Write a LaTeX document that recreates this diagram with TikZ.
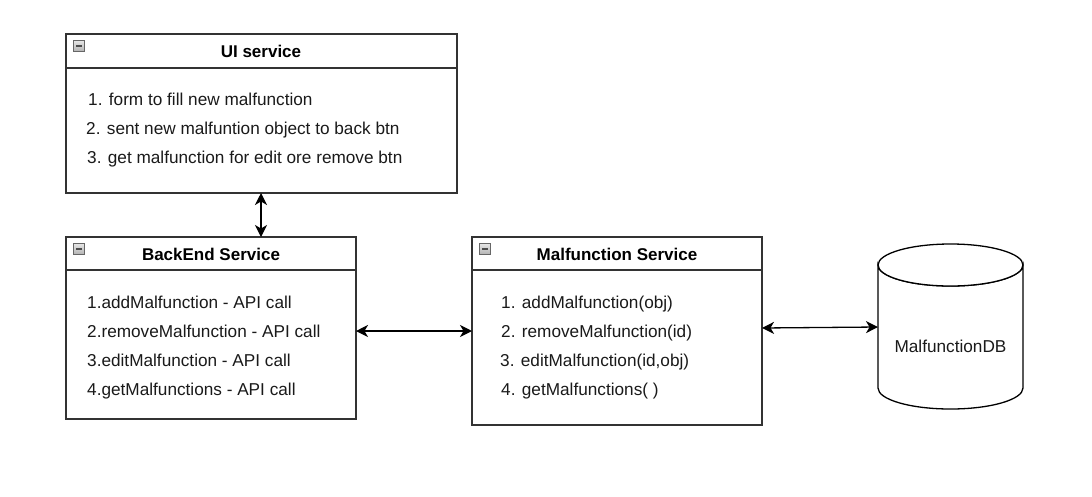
\documentclass[tikz,border=0pt]{standalone}
\usepackage{fontspec}
\setmainfont{Liberation Sans}
\usetikzlibrary{arrows.meta,shapes.geometric}
\definecolor{boxline}{HTML}{333333}
\definecolor{txt}{HTML}{1A1A1A}
\tikzset{
  x=1pt,y=-1pt,
  frame/.style={draw=boxline,line width=1.4pt,fill=white},
  sep/.style={draw=boxline,line width=1.4pt},
  title/.style={font=\fontsize{17}{20}\selectfont\bfseries,text=black,inner sep=0pt,anchor=base},
  item/.style={font=\fontsize{17.2}{20}\selectfont,text=txt,anchor=base west,inner sep=0pt},
  icon/.style={draw=gray!80!black,line width=0.6pt,top color=gray!20,bottom color=gray!60,minimum size=11pt,inner sep=0pt},
  conn/.style={draw=black,line width=1.3pt,{Stealth[length=12pt,width=12pt,inset=3.5pt]}-{Stealth[length=12pt,width=12pt,inset=3.5pt]}},
}
\newcommand{\collapseicon}[2]{%
  \node[icon] (#1) at #2 {};
  \draw[line width=1.4pt,black!70] ([xshift=3pt]#1.center) -- ([xshift=-3pt]#1.center);
}
\begin{document}
\begin{tikzpicture}
\useasboundingbox (0,0) rectangle (1092,496);
% UI service
\draw[frame] (66,34) rectangle (457,193);
\draw[sep] (66,68) -- (457,68);
\node[draw=none,minimum width=391pt,minimum height=159pt,anchor=north west] (ui) at (66,34) {};
\collapseicon{uiicon}{(78.5,46)}
\node[title] (uit) at (261,57) {UI service};
\node[item] (ui1) at (88,105) {1. form to fill new malfunction};
\node[item] (ui2) at (86,134) {2. sent new malfuntion object to back btn};
\node[item] (ui3) at (87,163) {3. get malfunction for edit ore remove btn};

% BackEnd service
\draw[frame] (66,237) rectangle (356,419);
\draw[sep] (66,270) -- (356,270);
\node[draw=none,minimum width=290pt,minimum height=182pt,anchor=north west] (be) at (66,237) {};
\collapseicon{beicon}{(78.5,249)}
\node[title] (bet) at (211,260) {BackEnd Service};
\node[item] (be1) at (87,308) {1.addMalfunction - API call};
\node[item] (be2) at (87,337) {2.removeMalfunction - API call};
\node[item] (be3) at (87,366) {3.editMalfunction - API call};
\node[item] (be4) at (87,395) {4.getMalfunctions - API call};

% Malfunction service
\draw[frame] (472,237) rectangle (762,425);
\draw[sep] (472,270) -- (762,270);
\node[draw=none,minimum width=290pt,minimum height=188pt,anchor=north west] (ms) at (472,237) {};
\collapseicon{msicon}{(484.5,249)}
\node[title] (mst) at (617,260) {Malfunction Service};
\node[item] (ms1) at (501,308) {1. addMalfunction(obj)};
\node[item] (ms2) at (501,337) {2. removeMalfunction(id)};
\node[item] (ms3) at (500,366) {3. editMalfunction(id,obj)};
\node[item] (ms4) at (501,395) {4. getMalfunctions( )};

% Database cylinder
\draw[draw=black,line width=1.3pt,fill=white]
  (878,265) arc[start angle=180,end angle=360,x radius=72.5pt,y radius=21pt]
  -- (1023,388) arc[start angle=0,end angle=-180,x radius=72.5pt,y radius=21pt] -- cycle;
\draw[draw=black,line width=1.3pt,fill=white] (950.5,265) ellipse[x radius=72.5pt,y radius=21pt];
\node[draw=none,minimum width=145pt,minimum height=166pt] (db) at (950.5,327) {};
\node[font=\fontsize{17.2}{20}\selectfont,text=txt,inner sep=0pt,anchor=base] (dbt) at (950.5,352) {MalfunctionDB};

% Connectors
\coordinate (a1) at (261,193);
\coordinate (a2) at (261,237);
\draw[conn] (a1) -- (a2);
\coordinate (b1) at (356,331);
\coordinate (b2) at (472,331);
\draw[conn] (b1) -- (b2);
\coordinate (c1) at (762,328);
\coordinate (c2) at (878,327);
\draw[conn] (c1) -- (c2);
\end{tikzpicture}
\end{document}
